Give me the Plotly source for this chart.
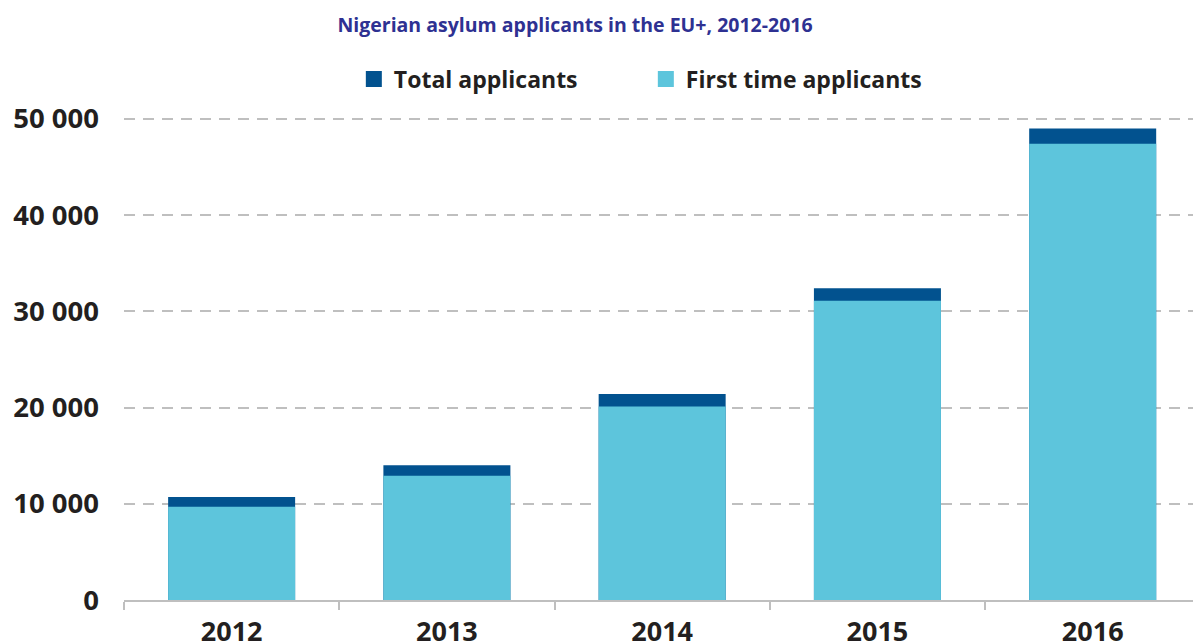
import plotly.graph_objects as go

# Nigerian asylum applicants in the EU+, by year
years = ["2012", "2013", "2014", "2015", "2016"]
total_applicants = [10700, 14000, 21400, 32400, 49000]
first_time_applicants = [9700, 12900, 20100, 31100, 47400]

DARK = "#02528f"
LIGHT = "#5dc5dc"
GRID = "#bfbfbf"
TEXT = "#231f20"
FONT = "Open Sans"

fig = go.Figure()

# Total bar sits behind the first-time bar; the visible dark cap is the difference
fig.add_trace(go.Bar(x=years, y=total_applicants, name="Total applicants",
                     marker=dict(color=DARK, line=dict(width=0)),
                     width=0.59, showlegend=False, hoverinfo="skip"))
fig.add_trace(go.Bar(x=years, y=first_time_applicants, name="First time applicants",
                     marker=dict(color=LIGHT, line=dict(width=0)),
                     width=0.59, showlegend=False, hoverinfo="skip"))

# Square legend keys
for name, color in [("Total applicants", DARK), ("First time applicants", LIGHT)]:
    fig.add_trace(go.Scatter(x=[None], y=[None], mode="markers", name=name,
                             marker=dict(symbol="square", size=17, color=color)))

fig.update_layout(
    width=1193, height=644,
    barmode="overlay",
    plot_bgcolor="white", paper_bgcolor="white",
    margin=dict(l=124, r=0, t=100, b=44, autoexpand=False),
    separators=". ",
    title=dict(text="<b>Nigerian asylum applicants in the EU+, 2012-2016</b>",
               font=dict(family=FONT, size=19.5, color="#2e3192"),
               x=0.482, xref="container", xanchor="center",
               y=1 - 25 / 644, yref="container", yanchor="middle"),
    legend=dict(orientation="h", x=0.215, xanchor="left", y=1.042, yanchor="middle",
                font=dict(family=FONT, size=23, color=TEXT, weight="bold"),
                entrywidth=247, entrywidthmode="pixels",
                itemsizing="trace", bgcolor="rgba(0,0,0,0)"),
    xaxis=dict(type="category", range=[-0.5, 4.466], automargin=False,
               showline=True, linecolor=GRID, linewidth=2,
               ticks="outside", tickson="boundaries", ticklen=8,
               tickcolor=GRID, tickwidth=2,
               tickfont=dict(family=FONT, size=27, color=TEXT, weight="bold"),
               ticklabelstandoff=7, showgrid=False, fixedrange=True),
    yaxis=dict(range=[0, 51953], tickvals=[0, 10000, 20000, 30000, 40000, 50000],
               automargin=False,
               tickformat=",d", showgrid=True, gridcolor=GRID, gridwidth=2,
               griddash="11px,8px", zeroline=False, showline=False,
               tickfont=dict(family=FONT, size=27.5, color=TEXT, weight="bold"),
               ticklabelstandoff=24, fixedrange=True),
    hovermode=False,
)

fig.write_html("out.html")
